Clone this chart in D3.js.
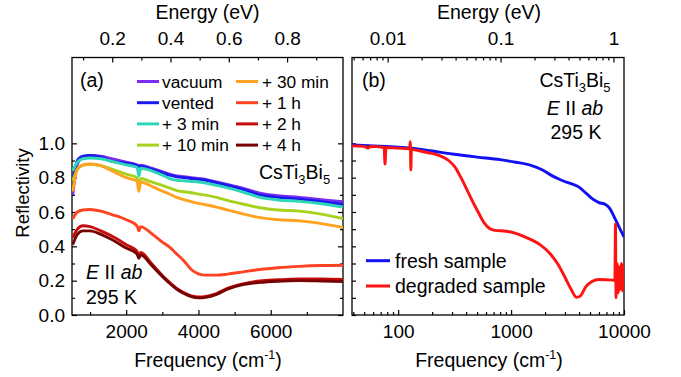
<!DOCTYPE html>
<html><head><meta charset="utf-8">
<script src="https://cdn.jsdelivr.net/npm/d3@7"></script>
<style>
body{margin:0;background:#fff;}
svg text{font-family:"Liberation Sans",Arial,sans-serif;fill:#000;}
</style></head>
<body><svg id="c" width="681" height="377"></svg>
<script>
// ---------- data ----------
const leftFreq = [520,650,800,1000,1300,1600,2000,2300,2350,2400,2700,3000,3200,3400,3600,3800,4000,4200,4500,4800,5200,5700,6200,6800,7400,8000];
const vacuum  = [0.70,0.88,0.92,0.93,0.925,0.91,0.89,0.875,0.87,0.872,0.855,0.835,0.82,0.81,0.805,0.80,0.795,0.79,0.775,0.76,0.74,0.71,0.695,0.685,0.672,0.66];
const vented  = [0.78,0.90,0.925,0.93,0.92,0.895,0.885,0.87,0.865,0.866,0.85,0.828,0.815,0.805,0.80,0.795,0.79,0.785,0.77,0.755,0.733,0.70,0.685,0.675,0.66,0.645];
const min3    = [0.84,0.89,0.91,0.915,0.91,0.895,0.875,0.86,0.81,0.855,0.84,0.815,0.795,0.785,0.782,0.778,0.775,0.768,0.755,0.74,0.718,0.685,0.67,0.662,0.648,0.628];
const min10   = [0.78,0.85,0.872,0.878,0.87,0.85,0.82,0.80,0.75,0.795,0.775,0.755,0.74,0.725,0.718,0.712,0.705,0.698,0.685,0.668,0.648,0.625,0.612,0.605,0.588,0.562];
const min30   = [0.72,0.85,0.875,0.88,0.87,0.84,0.80,0.78,0.72,0.775,0.75,0.722,0.705,0.685,0.672,0.66,0.65,0.642,0.628,0.612,0.59,0.567,0.555,0.548,0.532,0.51];
const h1      = [0.56,0.60,0.612,0.615,0.605,0.585,0.555,0.52,0.49,0.515,0.475,0.425,0.395,0.355,0.315,0.265,0.24,0.232,0.232,0.238,0.25,0.265,0.275,0.283,0.288,0.29];
const h2      = [0.45,0.50,0.52,0.515,0.49,0.46,0.41,0.37,0.34,0.365,0.30,0.23,0.19,0.155,0.13,0.112,0.105,0.108,0.125,0.155,0.18,0.198,0.205,0.21,0.21,0.207];
const h4      = [0.41,0.47,0.49,0.49,0.47,0.44,0.39,0.355,0.33,0.35,0.29,0.225,0.185,0.15,0.125,0.107,0.10,0.103,0.12,0.15,0.175,0.19,0.197,0.20,0.198,0.195];
const leftNames  = ["vacuum","vented","+ 3 min","+ 10 min","+ 30 min","+ 1 h","+ 2 h","+ 4 h"];
const leftColors = ["#7a2cf0","#1a1aee","#2ed6b8","#a6d21e","#ffa21e","#ff4222","#c80c0c","#760202"];

const freshFreq = [39,60,100,130,200,300,500,800,1100,1500,1900,2300,2800,3500,4000,4600,5300,6000,6800,7500,8200,9000,10000];
const fresh     = [0.99,0.985,0.978,0.972,0.955,0.938,0.92,0.905,0.89,0.872,0.845,0.812,0.785,0.762,0.745,0.71,0.675,0.655,0.645,0.62,0.57,0.515,0.455];
const degrFreq  = [39,50,54,57,75,76.5,78,100,126,128,129.5,131,150,185,230,280,320,360,420,470,520,580,650,720,900,1100,1400,1800,2200,2600,3000,3400,3800,4100,4600,5200,6000,7000,8000,8300,8400,8500,8700,8900,9100,9300,9500,9700,9900,10000];
const degraded  = [0.985,0.982,0.972,0.982,0.976,0.88,0.976,0.972,0.968,1.01,0.845,0.965,0.958,0.945,0.93,0.90,0.86,0.80,0.71,0.645,0.59,0.535,0.502,0.493,0.488,0.475,0.448,0.41,0.36,0.295,0.22,0.15,0.103,0.11,0.165,0.195,0.207,0.205,0.203,0.20,0.53,0.10,0.30,0.13,0.28,0.15,0.30,0.14,0.29,0.20];
const rightNames  = ["fresh sample","degraded sample"];
const rightColors = ["#1010f0","#ff1212"];

const leftYTicks = [0,0.2,0.4,0.6,0.8,1.0];
const leftYMinor = [0.1,0.3,0.5,0.7,0.9];
const leftXTicks = [2000,4000,6000];
const leftXMinor = [1000,3000,5000,7000];
const leftETicks = [0.2,0.4,0.6,0.8];
const leftEMinor = [0.1,0.3,0.5,0.7,0.9];
const rightXTicks = [100,1000,10000];
const rightETicks = [0.01,0.1,1];
const cmPerEV = 8065.54;

// ---------- layout ----------
const svg = d3.select("#c");
const Y = d3.scaleLinear([0,1.5],[315,57.5]);
const xL = d3.scaleLinear([500,8000],[72,343]);
const xLe = d3.scaleLinear([500/cmPerEV,8000/cmPerEV],[72,343]);
const xR = d3.scaleLog([39,10000],[352,624]);
const xRe = d3.scaleLog([39/cmPerEV,10000/cmPerEV],[352,624]);

const fs = 19;
const big = 19.5;
function styleAxis(g){
  g.select(".domain").remove();
  g.selectAll("line").attr("stroke","#000").attr("stroke-width",1.2);
  g.selectAll("text").attr("font-size",fs).attr("font-family","Liberation Sans, Arial, sans-serif");
}
function axis(gen, tx, ty){
  const g = svg.append("g").attr("transform",`translate(${tx},${ty})`).call(gen);
  styleAxis(g); return g;
}
const fmt1 = d3.format(".1f");
// left panel axes
axis(d3.axisBottom(xL).tickValues(leftXTicks).tickSizeInner(-5).tickSizeOuter(0).tickPadding(10).tickFormat(d3.format("d")),0,315);
axis(d3.axisBottom(xL).tickValues(leftXMinor).tickSizeInner(-3).tickSizeOuter(0).tickFormat(""),0,315);
axis(d3.axisLeft(Y).tickValues(leftYTicks).tickSizeInner(-5).tickSizeOuter(0).tickPadding(7).tickFormat(fmt1),72,0);
axis(d3.axisLeft(Y).tickValues(leftYMinor).tickSizeInner(-3).tickSizeOuter(0).tickFormat(""),72,0);
axis(d3.axisRight(Y).tickValues(leftYTicks).tickSizeInner(-5).tickSizeOuter(0).tickFormat(""),343,0);
axis(d3.axisRight(Y).tickValues(leftYMinor).tickSizeInner(-3).tickSizeOuter(0).tickFormat(""),343,0);
axis(d3.axisTop(xLe).tickValues(leftETicks).tickSizeInner(-5).tickSizeOuter(0).tickPadding(13).tickFormat(fmt1),0,57.5);
axis(d3.axisTop(xLe).tickValues(leftEMinor).tickSizeInner(-3).tickSizeOuter(0).tickFormat(""),0,57.5);
// right panel axes
const rMinor = xR.ticks().filter(d=>!rightXTicks.includes(d));
axis(d3.axisBottom(xR).tickValues(rightXTicks).tickSizeInner(-5).tickSizeOuter(0).tickPadding(10).tickFormat(d3.format("d")),0,315);
axis(d3.axisBottom(xR).tickValues(rMinor).tickSizeInner(-3).tickSizeOuter(0).tickFormat(""),0,315);
const eMinor = xRe.ticks().filter(d=>!rightETicks.some(t=>Math.abs(t-d)<1e-9));
axis(d3.axisTop(xRe).tickValues(rightETicks).tickSizeInner(-5).tickSizeOuter(0).tickPadding(13).tickFormat(d=>d>=1?"1":String(d)),0,57.5);
axis(d3.axisTop(xRe).tickValues(eMinor).tickSizeInner(-3).tickSizeOuter(0).tickFormat(""),0,57.5);
axis(d3.axisLeft(Y).tickValues(leftYTicks.concat(leftYMinor)).tickSizeInner(-4).tickSizeOuter(0).tickFormat(""),352,0);

// frames
svg.append("rect").attr("x",72).attr("y",57.5).attr("width",343-72).attr("height",315-57.5).attr("fill","none").attr("stroke","#000").attr("stroke-width",1.3);
svg.append("rect").attr("x",352).attr("y",57.5).attr("width",624-352).attr("height",315-57.5).attr("fill","none").attr("stroke","#000").attr("stroke-width",1.3);

// clip paths
const defs = svg.append("defs");
defs.append("clipPath").attr("id","cl").append("rect").attr("x",72).attr("y",57.5).attr("width",271).attr("height",257.5);
defs.append("clipPath").attr("id","cr").append("rect").attr("x",352).attr("y",57.5).attr("width",272).attr("height",257.5);

// left curves
const leftSeries = [vacuum,vented,min3,min10,min30,h1,h2,h4];
const lineL = d3.line().x(d=>xL(d[0])).y(d=>Y(d[1])).curve(d3.curveMonotoneX);
const gl = svg.append("g").attr("clip-path","url(#cl)");
leftSeries.forEach((s,i)=>{
  gl.append("path").attr("d",lineL(leftFreq.map((f,j)=>[f,s[j]])))
    .attr("fill","none").attr("stroke",leftColors[i]).attr("stroke-width",2.9).attr("stroke-linejoin","round");
});
// right curves
const lineR = d3.line().x(d=>xR(d[0])).y(d=>Y(d[1])).curve(d3.curveMonotoneX);
const gr = svg.append("g").attr("clip-path","url(#cr)");
gr.append("path").attr("d",lineR(freshFreq.map((f,j)=>[f,fresh[j]]))).attr("fill","none").attr("stroke",rightColors[0]).attr("stroke-width",2.9);
gr.append("path").attr("d",lineR(degrFreq.map((f,j)=>[f,degraded[j]]))).attr("fill","none").attr("stroke",rightColors[1]).attr("stroke-width",2.9);

// left legend
leftNames.forEach((n,i)=>{
  const col = Math.floor(i/4), row = i%4;
  const lx = col===0?137:236, tx = col===0?162:262, cy = 81.5+row*21.2;
  svg.append("line").attr("x1",lx).attr("x2",lx+22).attr("y1",cy).attr("y2",cy).attr("stroke",leftColors[i]).attr("stroke-width",3);
  svg.append("text").attr("x",tx).attr("y",cy+6.3).attr("font-size",17.3).text(n);
});
// right legend
rightNames.forEach((n,i)=>{
  const cy = 260.7+i*25.3;
  svg.append("line").attr("x1",366).attr("x2",390).attr("y1",cy).attr("y2",cy).attr("stroke",rightColors[i]).attr("stroke-width",3);
  svg.append("text").attr("x",395).attr("y",cy+7).attr("font-size",big).text(n);
});

// text helpers
function formula(x,y,anchor){
  const t = svg.append("text").attr("x",x).attr("y",y).attr("font-size",big).attr("text-anchor",anchor);
  t.append("tspan").text("CsTi");
  t.append("tspan").attr("dy",5).attr("font-size",13).text("3");
  t.append("tspan").attr("dy",-5).text("Bi");
  t.append("tspan").attr("dy",5).attr("font-size",13).text("5");
}
function polar(x,y,anchor){
  const t = svg.append("text").attr("x",x).attr("y",y).attr("font-size",big).attr("text-anchor",anchor);
  t.append("tspan").attr("font-style","italic").text("E");
  t.append("tspan").text(" II ");
  t.append("tspan").attr("font-style","italic").text("ab");
}
formula(259,179,"start");
polar(86,279,"start");
svg.append("text").attr("x",86).attr("y",304).attr("font-size",big).text("295 K");
formula(575,86.5,"middle");
polar(575,114.5,"middle");
svg.append("text").attr("x",576).attr("y",139).attr("font-size",big).attr("text-anchor","middle").text("295 K");
svg.append("text").attr("x",80).attr("y",87).attr("font-size",big).text("(a)");
svg.append("text").attr("x",362).attr("y",87).attr("font-size",big).text("(b)");

// axis titles
function freqTitle(cx){
  const t = svg.append("text").attr("x",cx).attr("y",366.5).attr("font-size",big).attr("text-anchor","middle");
  t.append("tspan").text("Frequency (cm");
  t.append("tspan").attr("dy",-7.5).attr("font-size",12.5).text("-1");
  t.append("tspan").attr("dy",7.5).text(")");
}
freqTitle(208); freqTitle(489);
svg.append("text").attr("x",207.5).attr("y",18.5).attr("font-size",big).attr("text-anchor","middle").text("Energy (eV)");
svg.append("text").attr("x",489).attr("y",18.5).attr("font-size",big).attr("text-anchor","middle").text("Energy (eV)");
svg.append("text").attr("transform","translate(29,193) rotate(-90)").attr("font-size",18.5).attr("text-anchor","middle").text("Reflectivity");
</script></body></html>
